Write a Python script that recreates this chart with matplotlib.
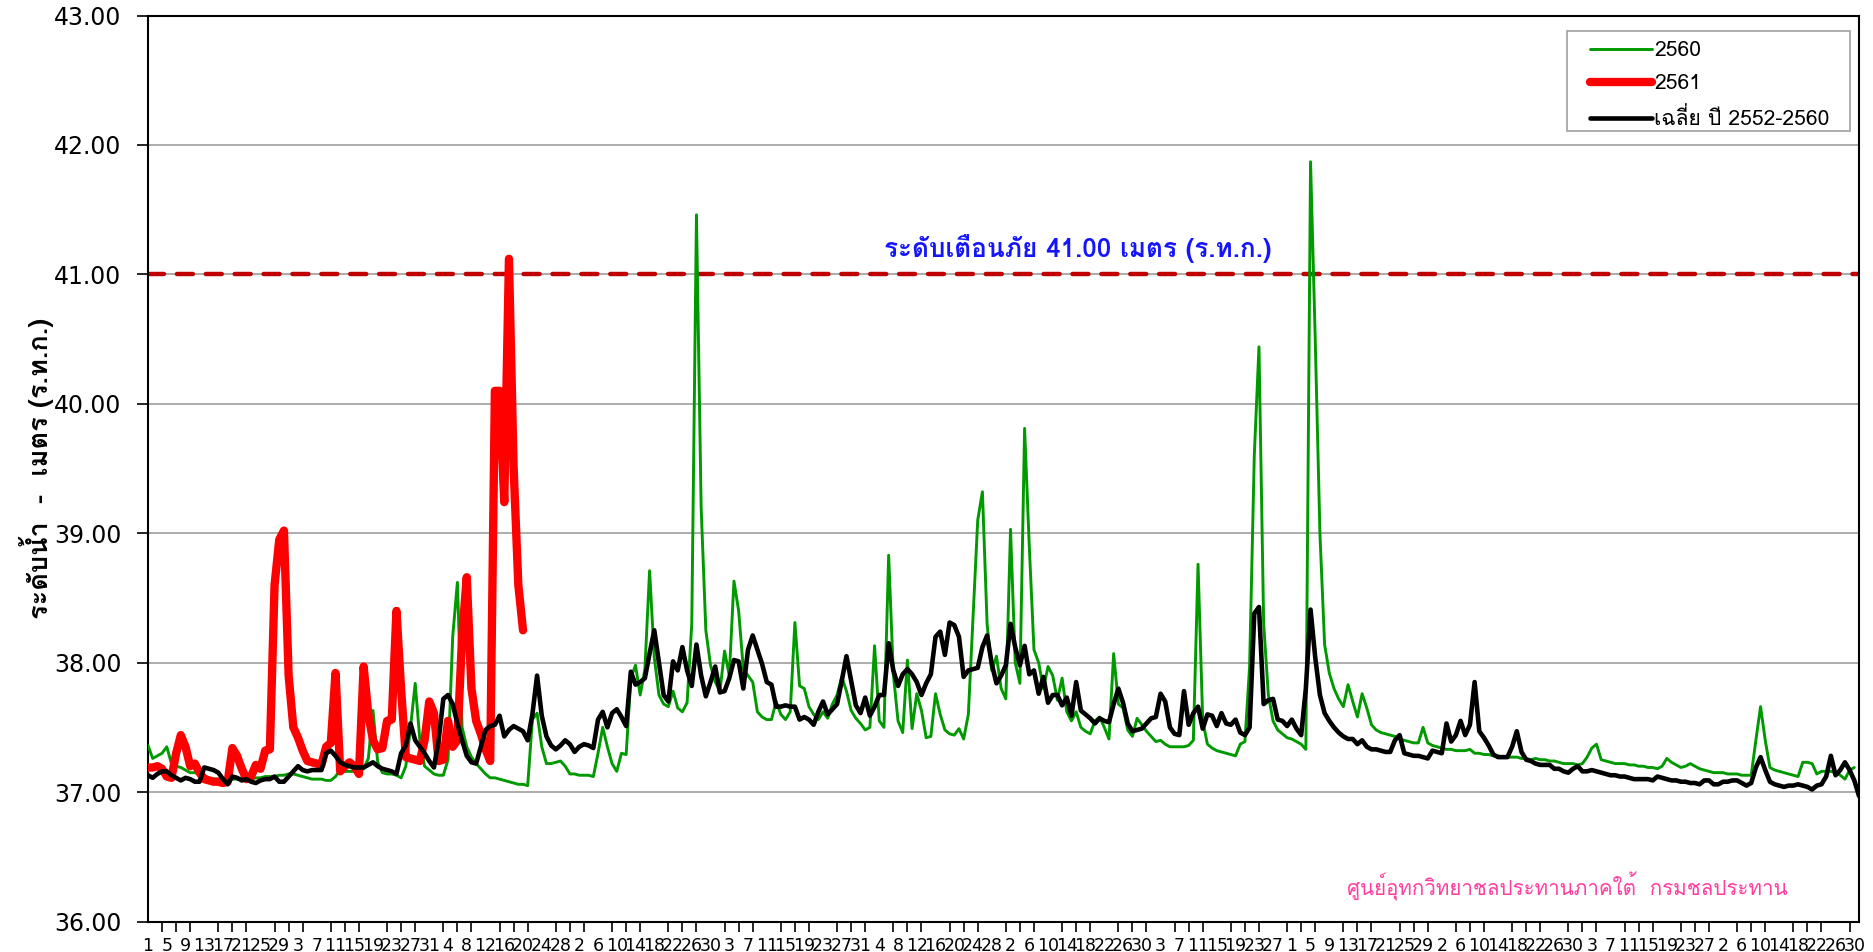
import numpy as np
import pandas as pd
import matplotlib
matplotlib.use("Agg")
import matplotlib.pyplot as plt
from matplotlib import font_manager
from matplotlib.ft2font import FT2Font
from matplotlib.patches import Rectangle

# water year, 1 April onward (leap February)
dates = pd.date_range("2019-04-01", periods=366, freq="D")
tick_days = list(range(0, 366, 4))
tick_labels = [str(dates[i].day) for i in tick_days]

# daily water level, year 2560
level_2560 = [
    37.36, 37.26, 37.28, 37.30, 37.35, 37.22, 37.20, 37.19, 37.17, 37.15,
    37.15, 37.14, 37.13, 37.11, 37.10, 37.10, 37.09, 37.09, 37.10, 37.10,
    37.11, 37.10, 37.10, 37.11, 37.11, 37.12, 37.12, 37.12, 37.13, 37.13,
    37.14, 37.14, 37.13, 37.12, 37.11, 37.10, 37.10, 37.10, 37.09, 37.09,
    37.12, 37.17, 37.16, 37.16, 37.16, 37.16, 37.18, 37.26, 37.63, 37.23,
    37.15, 37.14, 37.14, 37.13, 37.11, 37.20, 37.50, 37.84, 37.40, 37.20,
    37.17, 37.14, 37.13, 37.13, 37.25, 38.20, 38.62, 37.50, 37.35, 37.27,
    37.22, 37.18, 37.14, 37.11, 37.11, 37.10, 37.09, 37.08, 37.07, 37.06,
    37.06, 37.05, 37.56, 37.61, 37.35, 37.22, 37.22, 37.23, 37.24, 37.20,
    37.14, 37.14, 37.13, 37.13, 37.13, 37.12, 37.30, 37.50, 37.35, 37.22,
    37.16, 37.30, 37.29, 37.88, 37.98, 37.75, 37.95, 38.71, 38.04, 37.75,
    37.68, 37.66, 37.78, 37.65, 37.62, 37.69, 38.30, 41.46, 39.20, 38.25,
    37.98, 37.85, 37.78, 38.09, 37.90, 38.63, 38.40, 37.95, 37.90, 37.85,
    37.62, 37.58, 37.56, 37.56, 37.70, 37.60, 37.56, 37.62, 38.31, 37.82,
    37.80, 37.66, 37.60, 37.56, 37.62, 37.57, 37.68, 37.75, 37.89, 37.78,
    37.63, 37.57, 37.53, 37.48, 37.50, 38.13, 37.55, 37.50, 38.83, 37.91,
    37.55, 37.46, 38.02, 37.49, 37.76, 37.63, 37.42, 37.43, 37.76, 37.60,
    37.48, 37.45, 37.44, 37.49, 37.41, 37.60, 38.35, 39.10, 39.32, 38.30,
    37.94, 38.05, 37.80, 37.72, 39.03, 38.00, 37.84, 39.81, 38.90, 38.10,
    38.00, 37.80, 37.97, 37.90, 37.71, 37.88, 37.62, 37.55, 37.62, 37.50,
    37.47, 37.45, 37.55, 37.58, 37.50, 37.41, 38.07, 37.68, 37.65, 37.48,
    37.43, 37.57, 37.52, 37.47, 37.43, 37.39, 37.40, 37.37, 37.35, 37.35,
    37.35, 37.35, 37.36, 37.40, 38.76, 37.55, 37.37, 37.34, 37.32, 37.31,
    37.30, 37.29, 37.28, 37.37, 37.39, 37.97, 39.60, 40.44, 38.30, 37.75,
    37.55, 37.48, 37.45, 37.42, 37.41, 37.39, 37.37, 37.33, 41.87, 40.50,
    39.00, 38.14, 37.92, 37.80, 37.72, 37.66, 37.83, 37.70, 37.58, 37.76,
    37.65, 37.52, 37.48, 37.46, 37.45, 37.44, 37.43, 37.41, 37.40, 37.39,
    37.38, 37.38, 37.50, 37.38, 37.36, 37.35, 37.34, 37.33, 37.33, 37.32,
    37.32, 37.32, 37.33, 37.30, 37.30, 37.29, 37.29, 37.28, 37.28, 37.27,
    37.27, 37.27, 37.27, 37.26, 37.26, 37.25, 37.26, 37.25, 37.25, 37.24,
    37.24, 37.23, 37.22, 37.22, 37.22, 37.21, 37.22, 37.27, 37.34, 37.37,
    37.25, 37.24, 37.23, 37.22, 37.22, 37.22, 37.21, 37.21, 37.20, 37.20,
    37.19, 37.19, 37.18, 37.20, 37.26, 37.23, 37.21, 37.19, 37.20, 37.22,
    37.20, 37.18, 37.17, 37.16, 37.15, 37.15, 37.15, 37.14, 37.14, 37.14,
    37.13, 37.13, 37.13, 37.40, 37.66, 37.40, 37.19, 37.17, 37.16, 37.15,
    37.14, 37.13, 37.12, 37.23, 37.23, 37.22, 37.14, 37.16, 37.16, 37.16,
    37.15, 37.13, 37.10, 37.17, 37.19,
]

# daily water level, year 2561 (so far)
level_2561 = [
    37.19, 37.19, 37.20, 37.18, 37.12, 37.11, 37.30, 37.44, 37.35, 37.20,
    37.22, 37.15, 37.10, 37.09, 37.08, 37.08, 37.07, 37.08, 37.34, 37.28,
    37.18, 37.10, 37.12, 37.21, 37.18, 37.32, 37.33, 38.60, 38.95, 39.02,
    37.90, 37.50, 37.42, 37.32, 37.24, 37.23, 37.22, 37.21, 37.35, 37.38,
    37.92, 37.16, 37.20, 37.23, 37.20, 37.14, 37.97, 37.60, 37.40, 37.33,
    37.34, 37.55, 37.56, 38.40, 37.79, 37.27, 37.26, 37.25, 37.24, 37.40,
    37.70, 37.61, 37.24, 37.25, 37.55, 37.35, 37.40, 38.20, 38.66, 37.80,
    37.55, 37.45, 37.33, 37.24, 40.10, 40.10, 39.24, 41.12, 39.50, 38.60,
    38.25,
]

# daily average 2552-2560
level_avg = [
    37.13, 37.11, 37.14, 37.16, 37.16, 37.13, 37.11, 37.09, 37.11, 37.10,
    37.08, 37.08, 37.19, 37.18, 37.17, 37.15, 37.10, 37.06, 37.12, 37.11,
    37.09, 37.10, 37.08, 37.07, 37.09, 37.10, 37.10, 37.12, 37.08, 37.08,
    37.12, 37.16, 37.20, 37.17, 37.16, 37.17, 37.17, 37.17, 37.30, 37.32,
    37.28, 37.23, 37.21, 37.20, 37.19, 37.19, 37.19, 37.21, 37.23, 37.20,
    37.18, 37.17, 37.16, 37.14, 37.30, 37.36, 37.53, 37.40, 37.35, 37.30,
    37.24, 37.19, 37.40, 37.72, 37.75, 37.68, 37.53, 37.40, 37.28, 37.23,
    37.22, 37.35, 37.48, 37.51, 37.52, 37.59, 37.43, 37.48, 37.51, 37.49,
    37.47, 37.40, 37.60, 37.90, 37.59, 37.43, 37.36, 37.33, 37.36, 37.40,
    37.37, 37.31, 37.35, 37.37, 37.36, 37.34, 37.56, 37.62, 37.50, 37.61,
    37.64, 37.58, 37.51, 37.93, 37.83, 37.85, 37.88, 38.07, 38.25, 38.00,
    37.75, 37.70, 38.01, 37.94, 38.12, 37.94, 37.82, 38.14, 37.90, 37.74,
    37.85, 37.97, 37.77, 37.78, 37.88, 38.02, 38.01, 37.80, 38.10, 38.21,
    38.10, 37.99, 37.85, 37.83, 37.66, 37.66, 37.67, 37.66, 37.66, 37.56,
    37.58, 37.56, 37.52, 37.62, 37.70, 37.60, 37.64, 37.68, 37.86, 38.05,
    37.86, 37.67, 37.61, 37.73, 37.59, 37.66, 37.75, 37.75, 38.15, 37.94,
    37.82, 37.91, 37.95, 37.91, 37.85, 37.75, 37.84, 37.91, 38.20, 38.24,
    38.06, 38.31, 38.29, 38.20, 37.89, 37.94, 37.95, 37.96, 38.12, 38.21,
    37.99, 37.84, 37.90, 37.98, 38.30, 38.12, 37.98, 38.13, 37.91, 37.94,
    37.76, 37.89, 37.69, 37.75, 37.75, 37.67, 37.73, 37.59, 37.85, 37.63,
    37.60, 37.57, 37.53, 37.57, 37.55, 37.54, 37.68, 37.80, 37.69, 37.53,
    37.47, 37.48, 37.49, 37.53, 37.57, 37.58, 37.76, 37.70, 37.50, 37.45,
    37.44, 37.78, 37.52, 37.61, 37.66, 37.49, 37.60, 37.59, 37.51, 37.61,
    37.53, 37.52, 37.56, 37.46, 37.44, 37.50, 38.38, 38.43, 37.68, 37.71,
    37.72, 37.56, 37.55, 37.51, 37.56, 37.49, 37.44, 37.80, 38.41, 38.04,
    37.75, 37.61, 37.55, 37.50, 37.46, 37.43, 37.41, 37.41, 37.37, 37.40,
    37.35, 37.33, 37.33, 37.32, 37.31, 37.31, 37.40, 37.44, 37.30, 37.29,
    37.28, 37.28, 37.27, 37.26, 37.32, 37.31, 37.30, 37.53, 37.39, 37.44,
    37.55, 37.44, 37.52, 37.85, 37.47, 37.42, 37.36, 37.29, 37.27, 37.27,
    37.27, 37.35, 37.47, 37.31, 37.25, 37.24, 37.22, 37.21, 37.21, 37.21,
    37.18, 37.18, 37.16, 37.15, 37.18, 37.20, 37.16, 37.16, 37.17, 37.16,
    37.15, 37.14, 37.13, 37.13, 37.12, 37.12, 37.11, 37.10, 37.10, 37.10,
    37.10, 37.09, 37.12, 37.11, 37.10, 37.09, 37.09, 37.08, 37.08, 37.07,
    37.07, 37.06, 37.09, 37.09, 37.06, 37.06, 37.08, 37.08, 37.09, 37.09,
    37.07, 37.05, 37.07, 37.19, 37.27, 37.17, 37.08, 37.06, 37.05, 37.04,
    37.05, 37.05, 37.06, 37.05, 37.04, 37.02, 37.05, 37.06, 37.12, 37.28,
    37.13, 37.17, 37.23, 37.17, 37.09, 36.97,
]

warning_level = 41.00
series_labels = ["2560", "2561", "เฉลี่ย ปี 2552-2560"]


def family_with(codepoint):
    for entry in font_manager.fontManager.ttflist:
        try:
            if codepoint in FT2Font(entry.fname).get_charmap():
                return entry.name
        except Exception:
            continue
    return None


thai_font = family_with(0x0E01)
num_font = "DejaVu Sans"
text_fonts = [f for f in [thai_font, num_font] if f]
plt.rcParams["font.family"] = text_fonts

W, H = 1874, 952
fig = plt.figure(figsize=(W / 100, H / 100), dpi=100)
ax = fig.add_axes([148 / W, 30.5 / H, 1711 / W, 906 / H])

ax.axhline(warning_level, color="#c00000", lw=3.2, ls=(0, (3.6, 2.9)),
           dash_capstyle="round", zorder=2)

style = dict(solid_capstyle="round", solid_joinstyle="round")
l1, = ax.plot(np.arange(len(level_2560)), level_2560, color="#009900", lw=2.1, zorder=3, **style)
l2, = ax.plot(np.arange(len(level_2561)), level_2561, color="#ff0000", lw=6.0, zorder=4, **style)
l3, = ax.plot(np.arange(len(level_avg)), level_avg, color="#000000", lw=3.3, zorder=5, **style)

ax.set_xlim(0, 365)
ax.set_ylim(36, 43)
ax.set_yticks(np.arange(36, 44, 1))
ax.set_yticklabels([f"{v:.2f}" for v in np.arange(36, 44, 1)], fontsize=17, family=num_font)
ax.set_xticks(tick_days)
ax.set_xticklabels(tick_labels, fontsize=12.5, family=num_font)
ax.set_xticks(np.arange(0, 366, 3), minor=True)
ax.tick_params(axis="x", which="major", length=0, pad=11)
ax.tick_params(axis="x", which="minor", length=7, width=1.2, direction="out")
ax.tick_params(axis="y", length=8, width=1.2, pad=11)
ax.yaxis.grid(True, color="#a6a6a6", lw=1.3)
ax.set_axisbelow(True)
for s in ax.spines.values():
    s.set_color("black")
    s.set_linewidth(1.5)

ax.set_ylabel("ระดับน้ำ  -  เมตร (ร.ท.ก.)", fontsize=19.5, fontweight="bold")
ax.yaxis.set_label_coords(-0.055, 0.5)

ax.text(198.3, 41.2, "ระดับเตือนภัย 41.00 เมตร (ร.ท.ก.)", ha="center", va="center",
        color="#1414ff", fontsize=18.8, fontweight="bold")
ax.text(302.7, 36.27, "ศูนย์อุทกวิทยาชลประทานภาคใต้  กรมชลประทาน", ha="center", va="center",
        color="#ff3fa0", fontsize=14.8)

# legend box, then the entries on top of it
box = Rectangle((1567 / W, 1 - 131 / H), 283 / W, 100 / H, transform=fig.transFigure,
                facecolor="white", edgecolor="#a0a0a0", lw=1.2, zorder=6)
ax.add_patch(box)
leg = ax.legend([l1, l2, l3], series_labels, loc="center left",
                bbox_to_anchor=(1590 / W, 1 - 85 / H), bbox_transform=fig.transFigure,
                fontsize=15.2, handlelength=2.95, handletextpad=0.1, labelspacing=0.66,
                borderpad=0, borderaxespad=0, frameon=False)
leg.set_zorder(7)

fig.savefig("out.png", dpi=100)
